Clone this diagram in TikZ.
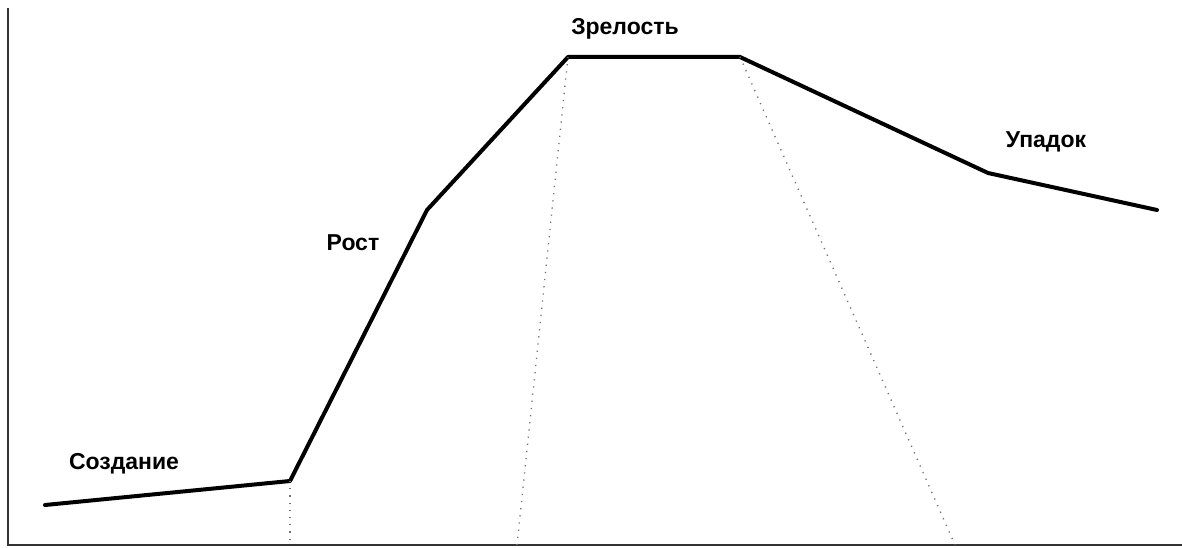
\documentclass[tikz,border=0pt]{standalone}
\usepackage{fontspec}
\setmainfont{Liberation Sans}
\usetikzlibrary{positioning}

\begin{document}
\begin{tikzpicture}[x=1pt, y=-1pt,
  phase/.style={font=\bfseries\fontsize{23}{27}\selectfont},
  curve/.style={line width=4pt, line join=round, line cap=round},
  axis/.style={line width=2.4pt, black!80},
  guide/.style={black!55, line width=1.4pt, dash pattern=on 1.2pt off 6pt}]
\useasboundingbox (0,0) rectangle (1182,548);
% axes
\coordinate (top) at (8,8);
\coordinate (origin) at (8,545);
\coordinate (right) at (1182,545);
\draw[axis] (top) -- (origin) -- (right);
% life cycle points
\coordinate (p0) at (45,505);
\coordinate (p1) at (290,481);
\coordinate (p2) at (427,210);
\coordinate (p3) at (568,57);
\coordinate (p4) at (740,57);
\coordinate (p5) at (988,173);
\coordinate (p6) at (1157,210);
\draw[curve] (p0) -- (p1) -- (p2) -- (p3) -- (p4) -- (p5) -- (p6);
% phase borders
\coordinate (b1) at (290,545);
\coordinate (b2) at (517,545);
\coordinate (b3) at (955,545);
\draw[guide] (p1) -- (b1);
\draw[guide] (p3) -- (b2);
\draw[guide] (p4) -- (b3);
% labels
\node[phase] (create) at (124,464) {Создание};
\node[phase] (growth) at (353,243) {Рост};
\node[phase] (mature) at (625,29) {Зрелость};
\node[phase] (decline) at (1046,142) {Упадок};
\end{tikzpicture}
\end{document}
